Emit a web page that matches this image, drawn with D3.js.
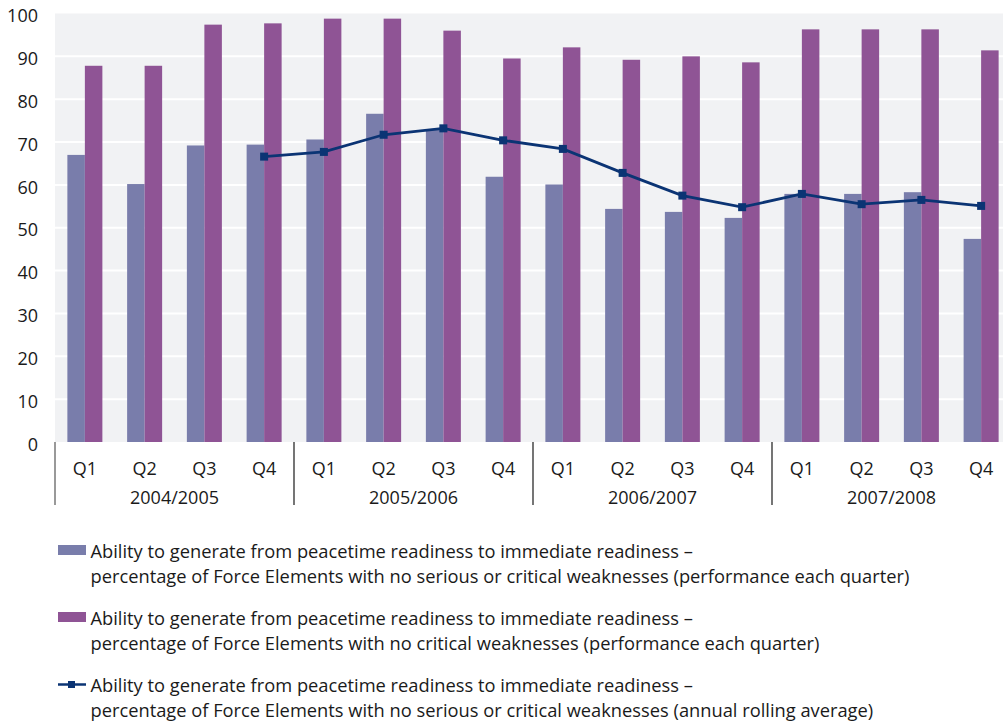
<!DOCTYPE html>
<html>
<head>
<meta charset="utf-8">
<script src="https://cdn.jsdelivr.net/npm/d3@7"></script>
<style>
  html, body { margin: 0; padding: 0; background: #ffffff; }
  svg { display: block; }
  text { font-family: "Open Sans", "Noto Sans", sans-serif; fill: #1a1a1a; }
</style>
</head>
<body>
<svg id="chart" width="1003" height="726"></svg>
<script>
// Financial years and their quarters
const years = ["2004/2005", "2005/2006", "2006/2007", "2007/2008"];
const quarters = ["Q1", "Q2", "Q3", "Q4"];
const categories = years.flatMap(y => quarters.map(q => y + " " + q));

// Percentage of Force Elements with no serious or critical weaknesses (each quarter)
const seriousOrCritical = [67, 60.2, 69.2, 69.4, 70.6, 76.6, 72.9, 61.9, 60.1, 54.4, 53.7, 52.3, 57.9, 57.9, 58.3, 47.4];
// Percentage of Force Elements with no critical weaknesses (each quarter)
const criticalOnly = [87.8, 87.8, 97.4, 97.7, 98.8, 98.8, 96.0, 89.5, 92.1, 89.2, 90.0, 88.6, 96.3, 96.3, 96.3, 91.4];
// Annual rolling average of the serious-or-critical measure (from 2004/2005 Q4)
const rollingAverage = [null, null, null, 66.6, 67.7, 71.7, 73.2, 70.4, 68.4, 62.8, 57.5, 54.8, 57.9, 55.5, 56.5, 55.1];

const yTicks = [0, 10, 20, 30, 40, 50, 60, 70, 80, 90, 100];

const legendItems = [
  { kind: "bar", color: "#797dab", lines: [
    "Ability to generate from peacetime readiness to immediate readiness \u2013",
    "percentage of Force Elements with no serious or critical weaknesses (performance each quarter)"] },
  { kind: "bar", color: "#8f5495", lines: [
    "Ability to generate from peacetime readiness to immediate readiness \u2013",
    "percentage of Force Elements with no critical weaknesses (performance each quarter)"] },
  { kind: "line", color: "#0b3474", lines: [
    "Ability to generate from peacetime readiness to immediate readiness \u2013",
    "percentage of Force Elements with no serious or critical weaknesses (annual rolling average)"] }
];

const svg = d3.select("#chart");
const W = 1003;
const plot = { left: 55, top: 13.5, bottom: 442, bandStep: 59.75 };
const plotRight = plot.left + plot.bandStep * categories.length;

const x = d3.scaleBand().domain(categories).range([plot.left, plotRight]).paddingInner(0).paddingOuter(0);
const y = d3.scaleLinear().domain([0, 100]).range([plot.bottom, plot.top]);
const barW = 17.5;

// Plot background
svg.append("rect")
  .attr("x", plot.left).attr("y", y(100))
  .attr("width", W - plot.left).attr("height", y(0) - y(100))
  .attr("fill", "#f1f2f4");

// Horizontal gridlines
svg.append("g").selectAll("line")
  .data(yTicks.filter(t => t > 0 && t < 100))
  .join("line")
  .attr("x1", plot.left).attr("x2", W)
  .attr("y1", d => y(d)).attr("y2", d => y(d))
  .attr("stroke", "#ffffff").attr("stroke-width", 2);

// Y axis labels
const yAxis = d3.axisLeft(y).tickValues(yTicks).tickSize(0).tickPadding(17);
const yg = svg.append("g").attr("transform", `translate(${plot.left},0)`).call(yAxis);
yg.select(".domain").remove();
yg.selectAll("text")
  .attr("font-size", 18).attr("dy", "0.45em")
  .attr("font-family", "'Open Sans', 'Noto Sans', sans-serif").attr("fill", "#1a1a1a");

// Bars
const centre = d => x(d) + x.bandwidth() / 2;
svg.append("g").selectAll("rect")
  .data(categories.map((c, i) => ({ c, v: seriousOrCritical[i] })))
  .join("rect")
  .attr("x", d => centre(d.c) - barW)
  .attr("y", d => y(d.v))
  .attr("width", barW)
  .attr("height", d => y(0) - y(d.v))
  .attr("fill", "#797dab");

svg.append("g").selectAll("rect")
  .data(categories.map((c, i) => ({ c, v: criticalOnly[i] })))
  .join("rect")
  .attr("x", d => centre(d.c))
  .attr("y", d => y(d.v))
  .attr("width", barW)
  .attr("height", d => y(0) - y(d.v))
  .attr("fill", "#8f5495");

// Rolling average line with square markers
const avgPts = categories.map((c, i) => ({ c, v: rollingAverage[i] })).filter(d => d.v !== null);
const line = d3.line().x(d => centre(d.c)).y(d => y(d.v));
svg.append("path")
  .datum(avgPts)
  .attr("d", line)
  .attr("fill", "none")
  .attr("stroke", "#0b3474")
  .attr("stroke-width", 2.8);
const mk = 8;
svg.append("g").selectAll("rect")
  .data(avgPts)
  .join("rect")
  .attr("x", d => centre(d.c) - mk / 2)
  .attr("y", d => y(d.v) - mk / 2)
  .attr("width", mk).attr("height", mk)
  .attr("fill", "#0b3474");

// Category axis: quarter labels, year separators and year labels
const xAxis = d3.axisBottom(x).tickSize(0).tickPadding(0).tickFormat(d => d.split(" ")[1]);
const xg = svg.append("g").attr("transform", `translate(0,${plot.bottom})`).call(xAxis);
xg.select(".domain").remove();
xg.selectAll("text")
  .attr("y", 33).attr("dy", 0)
  .attr("font-size", 18)
  .attr("font-family", "'Open Sans', 'Noto Sans', sans-serif").attr("fill", "#1a1a1a");

const yearScale = d3.scaleBand().domain(years).range([plot.left, plotRight]);
svg.append("g").selectAll("line")
  .data(years)
  .join("line")
  .attr("x1", d => yearScale(d)).attr("x2", d => yearScale(d))
  .attr("y1", plot.bottom).attr("y2", 505)
  .attr("stroke", (d, i) => i === 0 ? "#555555" : "#1a1a1a")
  .attr("stroke-width", 1.2);

svg.append("g").selectAll("text")
  .data(years)
  .join("text")
  .attr("x", d => yearScale(d) + yearScale.bandwidth() / 2)
  .attr("y", 504)
  .attr("text-anchor", "middle")
  .attr("font-size", 18)
  .text(d => d);

// Legend
const lg = svg.append("g");
legendItems.forEach((item, i) => {
  const base = 557.5 + i * 67;
  const g = lg.append("g");
  if (item.kind === "bar") {
    g.append("rect").attr("x", 58).attr("y", base - 12.5).attr("width", 28).attr("height", 10)
      .attr("fill", item.color);
  } else {
    g.append("line").attr("x1", 58).attr("x2", 86).attr("y1", base - 7).attr("y2", base - 7)
      .attr("stroke", item.color).attr("stroke-width", 2.5);
    g.append("rect").attr("x", 68).attr("y", base - 10.5).attr("width", 7).attr("height", 7)
      .attr("fill", item.color);
  }
  item.lines.forEach((t, j) => {
    g.append("text").attr("x", 90.5).attr("y", base + j * 25)
      .attr("font-size", 18.3).text(t);
  });
});
</script>
</body>
</html>
